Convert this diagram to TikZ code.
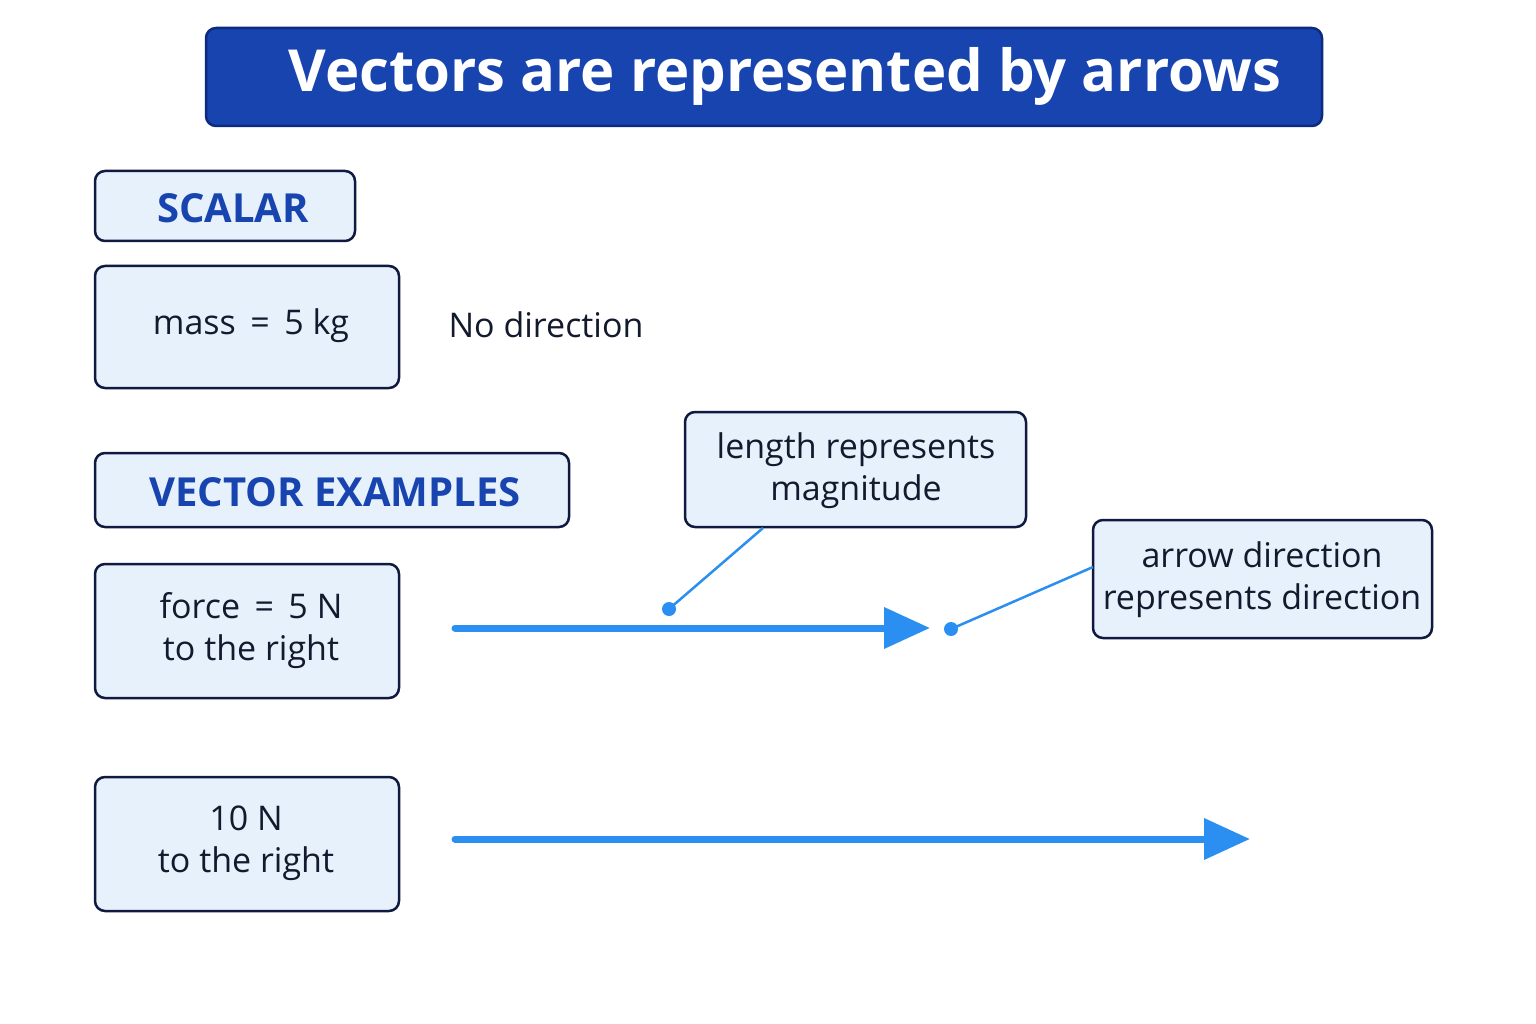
\documentclass[tikz,border=0pt]{standalone}
\usepackage{fontspec}
\setmainfont{Open Sans}
\usetikzlibrary{arrows.meta}
\definecolor{tb}{HTML}{1844B0}
\definecolor{tbb}{HTML}{0D2A80}
\definecolor{lb}{HTML}{E6F1FC}
\definecolor{nv}{HTML}{101A40}
\definecolor{ab}{HTML}{2A8FF0}
\definecolor{tx}{HTML}{141A2E}
\begin{document}
\begin{tikzpicture}[x=1pt,y=-1pt,
 box/.style={draw=nv,line width=2.5pt,fill=lb,rounded corners=10pt},
 txt/.style={text=tx,font=\fontsize{34}{42}\selectfont,align=center},
 head/.style={text=tb,font=\fontsize{40}{48}\selectfont\bfseries},
 vec/.style={draw=ab,line width=7pt,line cap=round,-{Triangle[length=46pt,width=40pt]}},
 lead/.style={draw=ab,line width=2.5pt},
 dot/.style={circle,fill=ab,inner sep=0pt,minimum size=14pt}]
\useasboundingbox (0,0) rectangle (1536,1024);
\fill[white] (0,0) rectangle (1536,1024);
\draw[draw=tbb,line width=2.5pt,fill=tb,rounded corners=10pt] (206,28) rectangle (1322,126);
\node[text=white,font=\fontsize{58}{64}\selectfont\bfseries] (title) at (785,76) {Vectors are represented by arrows};
\draw[box] (95,171) rectangle (355,241); \node[head] (sc) at (233,208) {SCALAR};
\draw[box] (95,266) rectangle (399,388); \node[txt] (mass) at (251,326) {mass \,=\, 5 kg};
\node[txt] (nod) at (546,325) {No direction};
\draw[box] (95,453) rectangle (569,527); \node[head] (ve) at (335,492) {VECTOR EXAMPLES};
\draw[box] (685,412) rectangle (1026,527); \node[txt] (len) at (856,471) {length represents\\magnitude};
\draw[box] (1093,520) rectangle (1432,638); \node[txt] (dir) at (1262,580) {arrow direction\\represents direction};
\draw[box] (95,564) rectangle (399,698); \node[txt] (f5) at (251,631) {force \,=\, 5 N\\to the right};
\draw[box] (95,777) rectangle (399,911); \node[txt] (f10) at (246,843) {10 N\\to the right};
\coordinate (a1s) at (455,628); \coordinate (a1e) at (930,628);
\coordinate (a2s) at (455,839); \coordinate (a2e) at (1250,839);
\draw[vec] (a1s) -- (a1e);
\draw[vec] (a2s) -- (a2e);
\node[dot] (d1) at (669,609) {}; \coordinate (l1) at (763,528);
\node[dot] (d2) at (951,629) {}; \coordinate (l2) at (1093,567);
\draw[lead] (d1.center) -- (l1);
\draw[lead] (d2.center) -- (l2);
\end{tikzpicture}
\end{document}
